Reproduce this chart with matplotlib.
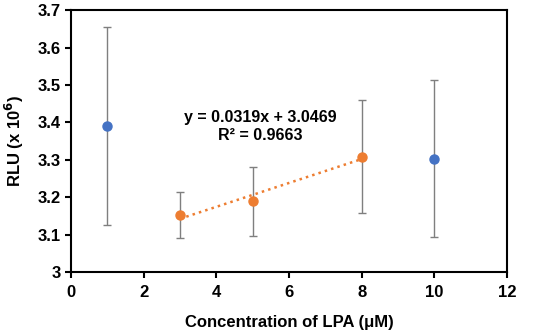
import numpy as np
import matplotlib.pyplot as plt

plt.rcParams['font.family'] = ['Liberation Sans', 'DejaVu Sans']
plt.rcParams['font.weight'] = 'bold'

# LPA concentration (uM) and RLU (x 10^6)
blue_x = [1, 10]
blue_y = [3.390, 3.302]
blue_lo = [3.127, 3.094]
blue_hi = [3.655, 3.513]

orange_x = [3, 5, 8]
orange_y = [3.152, 3.190, 3.308]
orange_lo = [3.092, 3.096, 3.157]
orange_hi = [3.213, 3.282, 3.460]

slope, intercept = 0.0319, 3.0469

fig = plt.figure(figsize=(5.5, 3.36), dpi=100)
ax = fig.add_axes([0.129, 0.19, 0.793, 0.78])

def draw(xs, ys, lo, hi, color):
    ys = np.array(ys)
    yerr = [ys - np.array(lo), np.array(hi) - ys]
    ax.errorbar(xs, ys, yerr=yerr, fmt='o', color=color, ms=6.5,
                ecolor='#7f7f7f', elinewidth=1, capsize=3, capthick=1, zorder=3)

draw(blue_x, blue_y, blue_lo, blue_hi, '#4472C4')
draw(orange_x, orange_y, orange_lo, orange_hi, '#ED7D31')

tx = np.array([orange_x[0], orange_x[-1]])
ax.plot(tx, slope * tx + intercept, ':', color='#ED7D31', lw=1.8, zorder=2)

ax.text(5.2, 3.39, 'y = 0.0319x + 3.0469\nR² = 0.9663', ha='center', va='center',
        fontsize=11.5, fontweight='bold', linespacing=1.25)

ax.set_xlim(0, 12)
ax.set_ylim(3, 3.7)
ax.set_xticks(range(0, 13, 2))
ax.set_yticks(np.arange(3, 3.71, 0.1))
ax.set_yticklabels(['3', '3.1', '3.2', '3.3', '3.4', '3.5', '3.6', '3.7'])
ax.tick_params(labelsize=12, width=1.5, length=4, direction='out')
ax.tick_params(axis='x', pad=5)
for s in ax.spines.values():
    s.set_linewidth(1.5)
ax.set_xlabel('Concentration of LPA (μM)', fontsize=12, fontweight='bold', labelpad=11)
ax.set_ylabel('RLU (x 10$^{6}$)', fontsize=12, fontweight='bold', labelpad=8)

fig.savefig('out.png', dpi=100)
